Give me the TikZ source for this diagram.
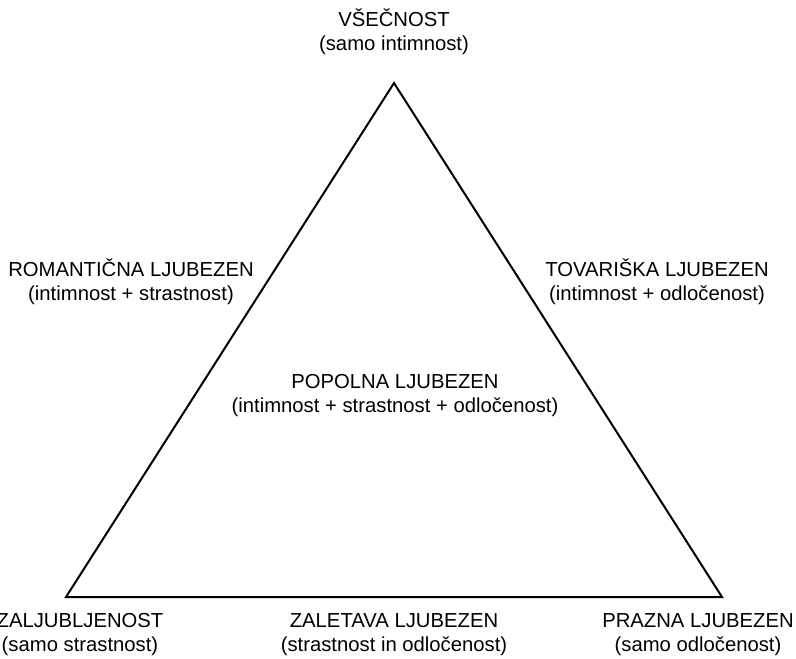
\documentclass[tikz,border=0pt]{standalone}
\usepackage{fontspec}
\setmainfont{Liberation Sans}

\begin{document}
\begin{tikzpicture}[
    x=0.75pt, y=-0.75pt,
    every node/.style={font=\fontsize{15.2}{17.5}\selectfont, align=center, inner sep=0pt, anchor=base},
    edge/.style={line width=1.5pt}
]

\useasboundingbox (0,0) rectangle (796,658);

% =========================================================
% Corners
% =========================================================

\coordinate (top)   at (394,83);
\coordinate (left)  at (66,597);
\coordinate (right) at (722,597);

\draw[edge] (top) -- (left) -- (right) -- cycle;


% =========================================================
% Labels (base = baseline of the second line)
% =========================================================

\node (vsecnost) at (394,50) {VŠEČNOST\\(samo intimnost)};

\node (romanticna) at (131,300) {ROMANTIČNA LJUBEZEN\\(intimnost + strastnost)};
\node (tovariska)  at (657,300) {TOVARIŠKA LJUBEZEN\\(intimnost + odločenost)};

\node (popolna) at (395,412) {POPOLNA LJUBEZEN\\(intimnost + strastnost + odločenost)};

\node (zaljubljenost) at (80,651)  {ZALJUBLJENOST\\(samo strastnost)};
\node (zaletava)      at (394,651) {ZALETAVA LJUBEZEN\\(strastnost in odločenost)};
\node (prazna)        at (698,651) {PRAZNA LJUBEZEN\\(samo odločenost)};

\end{tikzpicture}
\end{document}
